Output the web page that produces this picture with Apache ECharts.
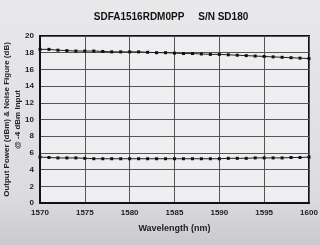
<!DOCTYPE html>
<html><head><meta charset="utf-8">
<script src="https://cdn.jsdelivr.net/npm/echarts@6/dist/echarts.min.js"></script>
<style>html,body{margin:0;padding:0;background:#e4e4e7}#c{width:320px;height:245px}</style>
</head><body><div id="c"></div>
<script>
var wavelengths = [1570,1571,1572,1573,1574,1575,1576,1577,1578,1579,1580,1581,1582,1583,1584,1585,1586,1587,1588,1589,1590,1591,1592,1593,1594,1595,1596,1597,1598,1599,1600];
var outputPower = [18.4,18.4,18.3,18.25,18.2,18.2,18.2,18.15,18.1,18.1,18.1,18.1,18.05,18.0,18.0,17.95,17.9,17.9,17.85,17.8,17.8,17.75,17.7,17.65,17.6,17.55,17.5,17.45,17.4,17.35,17.3];
var noiseFigure = [5.5,5.45,5.4,5.4,5.4,5.35,5.3,5.3,5.3,5.3,5.3,5.3,5.3,5.3,5.3,5.3,5.3,5.3,5.3,5.3,5.3,5.35,5.35,5.35,5.4,5.4,5.4,5.4,5.45,5.45,5.5];
var titleText = 'SDFA1516RDM0PP     S/N SD180';
var yName = 'Output Power (dBm) & Noise Figure (dB)\n@ -4 dBm Input';
var xName = 'Wavelength (nm)';

function pairs(ys){ return wavelengths.map(function(x,i){ return [x, ys[i]]; }); }
var font = 'Liberation Sans, Arial, sans-serif';
var chart = echarts.init(document.getElementById('c'), null, {renderer:'canvas'});
chart.setOption({
  animation:false,
  backgroundColor:{type:'linear',x:0,y:0,x2:0,y2:1,colorStops:[{offset:0,color:'#e9e9ec'},{offset:0.8,color:'#dcdce0'},{offset:1,color:'#c9c9ce'}]},
  title:{text:titleText,left:166,top:7,textAlign:'center',textStyle:{fontFamily:font,fontSize:10,fontWeight:'bold',color:'#111'}},
  grid:{left:40,right:11,top:36,bottom:42,containLabel:false,outerBoundsMode:'none',show:true,backgroundColor:'#eeeef0',borderColor:'#111',borderWidth:2},
  xAxis:{type:'value',min:1570,max:1600,interval:5,name:xName,nameLocation:'middle',nameGap:21,nameMoveOverlap:false,
    nameTextStyle:{fontFamily:font,fontSize:9,fontWeight:'bold',color:'#222'},
    axisLine:{lineStyle:{color:'#111',width:2}},axisTick:{show:false},
    axisLabel:{fontFamily:font,fontSize:8,fontWeight:'bold',color:'#222',margin:6,formatter:function(v){return String(v);}},
    splitLine:{lineStyle:{color:'#555',width:1}}},
  yAxis:{type:'value',min:0,max:20,interval:2,name:yName,nameLocation:'middle',nameGap:17,nameMoveOverlap:false,
    nameTextStyle:{fontFamily:font,fontSize:8,fontWeight:'bold',color:'#222',lineHeight:11},
    axisLine:{show:true,lineStyle:{color:'#111',width:2}},axisTick:{show:false},
    axisLabel:{fontFamily:font,fontSize:8,fontWeight:'bold',color:'#222',margin:6},
    splitLine:{lineStyle:{color:'#555',width:1}}},
  series:[
    {type:'line',data:pairs(outputPower),symbol:'rect',symbolSize:3,lineStyle:{color:'#222',width:1},itemStyle:{color:'#111'}},
    {type:'line',data:pairs(noiseFigure),symbol:'rect',symbolSize:3,lineStyle:{color:'#222',width:1},itemStyle:{color:'#111'}}
  ]
});
</script></body></html>
